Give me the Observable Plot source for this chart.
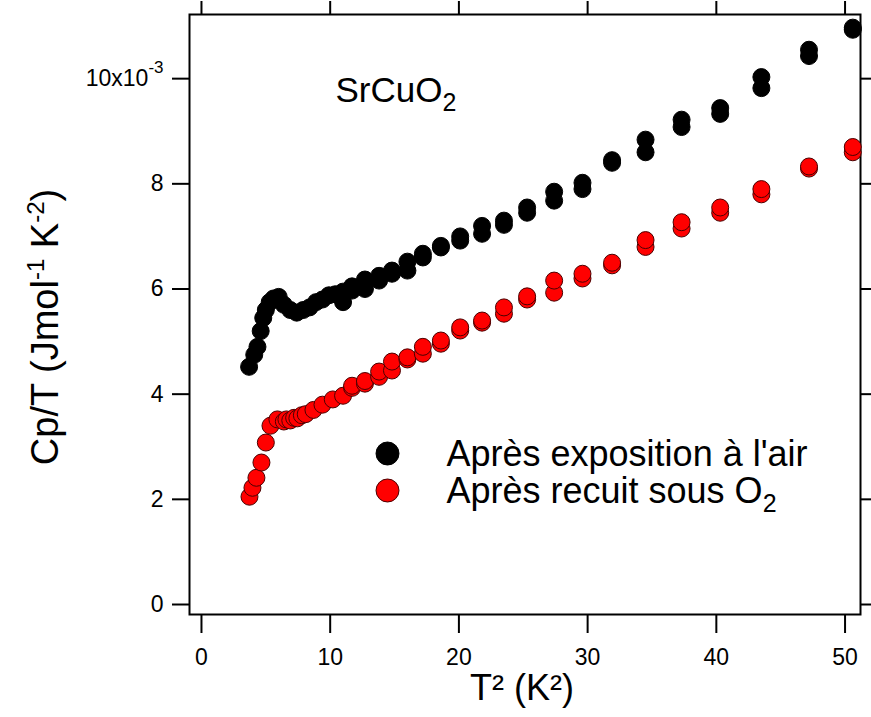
<!DOCTYPE html>
<html><head><meta charset="utf-8">
<script src="https://cdn.jsdelivr.net/npm/d3@7"></script>
<script src="https://cdn.jsdelivr.net/npm/@observablehq/plot@0.6"></script>
<style>body{margin:0;background:#fff;}</style>
</head><body><div id="chart"></div>
<script>
// T² (K²) and Cp/T (×10⁻³ J mol⁻¹ K⁻²)
const airT2 = [3.7, 4.1, 4.35, 4.6, 4.8, 5.0, 5.3, 5.6, 6.0, 6.4, 6.9, 7.4, 7.9, 8.4, 8.9, 9.4, 9.9, 10.4,
  11.0, 11.0, 11.7, 11.7, 12.7, 12.7, 13.8, 13.8, 14.8, 14.8, 16.0, 16.0, 17.2, 17.2, 18.6, 18.6, 20.1, 20.1,
  21.8, 21.8, 23.5, 23.5, 25.3, 25.3, 27.4, 27.4, 29.6, 29.6, 31.9, 31.9, 34.5, 34.5, 37.3, 37.3, 40.3, 40.3,
  43.5, 43.5, 47.2, 47.2, 50.6, 50.6];
const airCpT = [4.52, 4.75, 4.9, 5.2, 5.45, 5.6, 5.75, 5.82, 5.85, 5.7, 5.6, 5.55, 5.6, 5.65, 5.75, 5.8, 5.88, 5.9,
  5.75, 5.95, 5.97, 6.05, 6.0, 6.18, 6.16, 6.25, 6.29, 6.35, 6.35, 6.52, 6.6, 6.67, 6.79, 6.82, 6.92, 7.0,
  7.05, 7.2, 7.22, 7.3, 7.45, 7.55, 7.68, 7.85, 7.9, 8.02, 8.4, 8.45, 8.6, 8.84, 9.08, 9.22, 9.33, 9.44,
  9.82, 10.03, 10.43, 10.55, 10.93, 10.97];
const o2T2 = [3.73, 3.96, 4.27, 4.66, 5.0, 5.36, 5.9, 6.4, 6.6, 6.9, 7.2, 7.45, 7.8, 8.1, 8.7, 9.4, 10.2, 11.0,
  11.7, 11.7, 12.7, 12.7, 13.8, 13.8, 14.8, 14.8, 16.0, 16.0, 17.2, 17.2, 18.6, 18.6, 20.1, 20.1, 21.8, 21.8,
  23.5, 23.5, 25.3, 25.3, 27.4, 27.4, 29.6, 29.6, 31.9, 31.9, 34.5, 34.5, 37.3, 37.3, 40.3, 40.3, 43.5, 43.5,
  47.2, 47.2, 50.6, 50.6];
const o2CpT = [2.05, 2.22, 2.41, 2.7, 3.08, 3.4, 3.52, 3.48, 3.52, 3.5, 3.55, 3.54, 3.6, 3.62, 3.7, 3.8, 3.9, 3.97,
  4.12, 4.16, 4.2, 4.25, 4.33, 4.43, 4.45, 4.62, 4.66, 4.7, 4.77, 4.9, 4.96, 5.02, 5.21, 5.27, 5.36, 5.4,
  5.53, 5.65, 5.8, 5.86, 5.93, 6.16, 6.2, 6.29, 6.45, 6.5, 6.8, 6.93, 7.15, 7.27, 7.45, 7.55, 7.8, 7.9,
  8.29, 8.33, 8.6, 8.7];

const xTicks = [0, 10, 20, 30, 40, 50];
const yTicks = [0, 2, 4, 6, 8, 10];
const legendLabels = ["Après exposition à l'air", "Après recuit sous O"];
const legendColors = ["black", "#ff0000"];
const annotation = "SrCuO";
const xTitle = "T² (K²)";

const air = airT2.map((t, i) => ({t2: t, cpt: airCpT[i]}));
const o2 = o2T2.map((t, i) => ({t2: t, cpt: o2CpT[i]}));

const font = "'Liberation Sans', Arial, Helvetica, sans-serif";

const svg = Plot.plot({
  width: 871, height: 717,
  marginLeft: 189, marginRight: 11, marginTop: 14, marginBottom: 103,
  style: {fontFamily: font, fontSize: "23px", color: "black", background: "white", overflow: "visible"},
  x: {domain: [-0.93, 51.2]},
  y: {domain: [-0.19, 11.22]},
  marks: [
    Plot.axisX({anchor: "bottom", ticks: xTicks, tickSize: 19, tickPadding: 15, strokeWidth: 2, label: null, fontSize: 23}),
    Plot.axisX({anchor: "top", ticks: xTicks, tickSize: 14, strokeWidth: 2, tickFormat: () => "", label: null}),
    Plot.axisY({anchor: "left", ticks: yTicks, tickSize: 17, tickPadding: 9, strokeWidth: 2, label: null, fontSize: 23,
      tickFormat: d => d === 10 ? "10x10" : String(d)}),
    Plot.axisY({anchor: "right", ticks: yTicks, tickSize: 11, strokeWidth: 2, tickFormat: () => "", label: null}),
    Plot.frame({stroke: "black", strokeWidth: 2}),
    Plot.dot(air, {x: "t2", y: "cpt", r: 8.5, fill: "black", stroke: "black", strokeWidth: 1}),
    Plot.dot(o2, {x: "t2", y: "cpt", r: 8.5, fill: "#ff0000", stroke: "#4a0000", strokeWidth: 1}),
    Plot.text([annotation], {text: d => d, frameAnchor: "top-left", dx: 146, dy: 76, textAnchor: "start",
      lineAnchor: "middle", fontSize: 35, fill: "black"}),
    ...legendLabels.map((lab, i) => Plot.dot([lab], {frameAnchor: "top-left", dx: 198, dy: 439 + i * 37, r: 11.5,
      fill: legendColors[i], stroke: i ? "#4a0000" : "black", strokeWidth: 1})),
    ...legendLabels.map((lab, i) => Plot.text([lab], {text: d => d, frameAnchor: "top-left", dx: 257, dy: 440 + i * 37,
      textAnchor: "start", lineAnchor: "middle", fontSize: 36, fill: "black"}))
  ]
});

const s = d3.select(svg);
// superscript on the top y tick label
s.selectAll("text").filter(function() { return this.textContent === "10x10"; })
  .append("tspan").attr("font-size", 17).attr("dy", "-0.75em").text("-3");
// subscripts
s.selectAll("text").filter(function() { return this.textContent === annotation || this.textContent === legendLabels[1]; })
  .append("tspan").attr("font-size", 25).attr("dy", 9).text("2");

// axis titles
s.append("text").attr("x", 522).attr("y", 700).attr("text-anchor", "middle")
  .attr("font-family", font).attr("font-size", 36).attr("fill", "black").text(xTitle);

const yt = s.append("text").attr("transform", "translate(58,327) rotate(-90)").attr("text-anchor", "middle")
  .attr("font-family", font).attr("font-size", 38).attr("fill", "black");
yt.append("tspan").text("Cp/T (Jmol");
yt.append("tspan").attr("font-size", 24).attr("dy", -14).text("-1");
yt.append("tspan").attr("dy", 14).text(" K");
yt.append("tspan").attr("font-size", 24).attr("dy", -14).text("-2");
yt.append("tspan").attr("dy", 14).text(")");

document.getElementById("chart").appendChild(svg);
</script>
</body></html>
